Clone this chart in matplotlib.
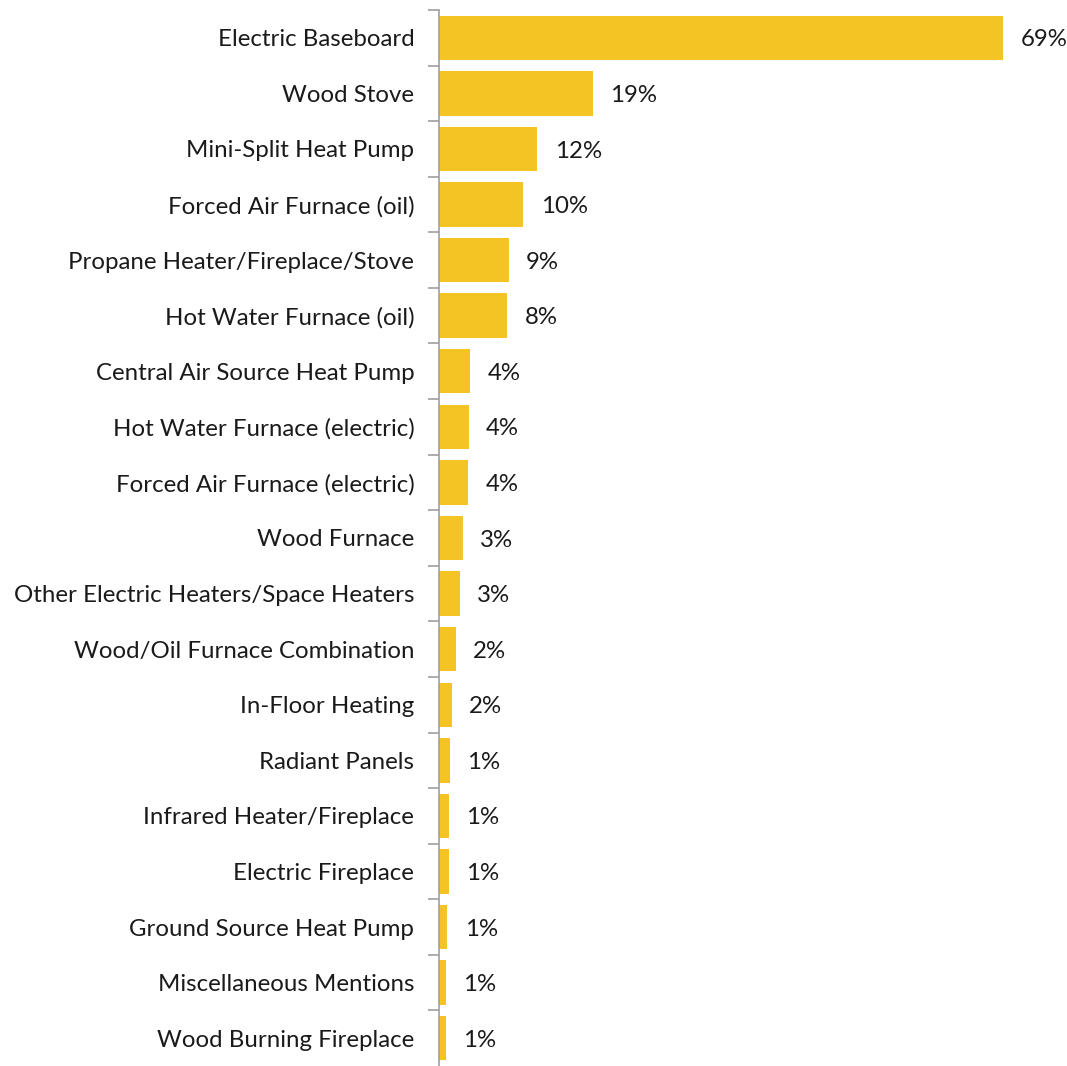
import matplotlib.pyplot as plt

# Heating system shares
categories = [
    'Electric Baseboard', 'Wood Stove', 'Mini-Split Heat Pump', 'Forced Air Furnace (oil)',
    'Propane Heater/Fireplace/Stove', 'Hot Water Furnace (oil)', 'Central Air Source Heat Pump',
    'Hot Water Furnace (electric)', 'Forced Air Furnace (electric)', 'Wood Furnace',
    'Other Electric Heaters/Space Heaters', 'Wood/Oil Furnace Combination', 'In-Floor Heating',
    'Radiant Panels', 'Infrared Heater/Fireplace', 'Electric Fireplace',
    'Ground Source Heat Pump', 'Miscellaneous Mentions', 'Wood Burning Fireplace',
]
values = [69.0, 18.8, 12.0, 10.3, 8.5, 8.3, 3.8, 3.6, 3.5, 2.9, 2.5, 2.0, 1.5, 1.3, 1.2, 1.2,
          1.0, 0.8, 0.8]
value_labels = ['69%', '19%', '12%', '10%', '9%', '8%', '4%', '4%', '4%', '3%', '3%', '2%',
                '2%', '1%', '1%', '1%', '1%', '1%', '1%']

plt.rcParams['font.family'] = ['Lato', 'DejaVu Sans']

fig = plt.figure(figsize=(10.67, 10.66), dpi=100)
ax = fig.add_axes([439.3 / 1067, 0.0, 1 - 439.3 / 1067, 1 - 10 / 1066])

y = list(range(len(categories)))
bars = ax.barh(y, values, height=0.8, color='#F4C425')

ax.set_ylim(len(categories) - 0.5, -0.5)
ax.set_xlim(0, 76.8)
# category separators as major ticks, names on minor ticks
ax.set_yticks([i + 0.5 for i in y[:-1]] + [-0.5], minor=False)
ax.set_yticklabels([])
ax.set_yticks(y, minor=True)
ax.set_yticklabels(categories, minor=True, fontsize=17.3, color='#1a1a1a')
ax.tick_params(axis='y', which='major', length=8, width=1.2, color='#a0a0a0')
ax.tick_params(axis='y', which='minor', length=0, pad=18)
ax.set_xticks([])

for s in ['top', 'right', 'bottom']:
    ax.spines[s].set_visible(False)
ax.spines['left'].set_color('#a0a0a0')
ax.spines['left'].set_linewidth(1.2)

for bar, lab in zip(bars, value_labels):
    ax.annotate(lab, (bar.get_width(), bar.get_y() + bar.get_height() / 2),
                xytext=(12.5, -1.5), textcoords='offset points', va='center', ha='left',
                fontsize=17.3, color='#1a1a1a')

fig.savefig('out.png', dpi=100)
